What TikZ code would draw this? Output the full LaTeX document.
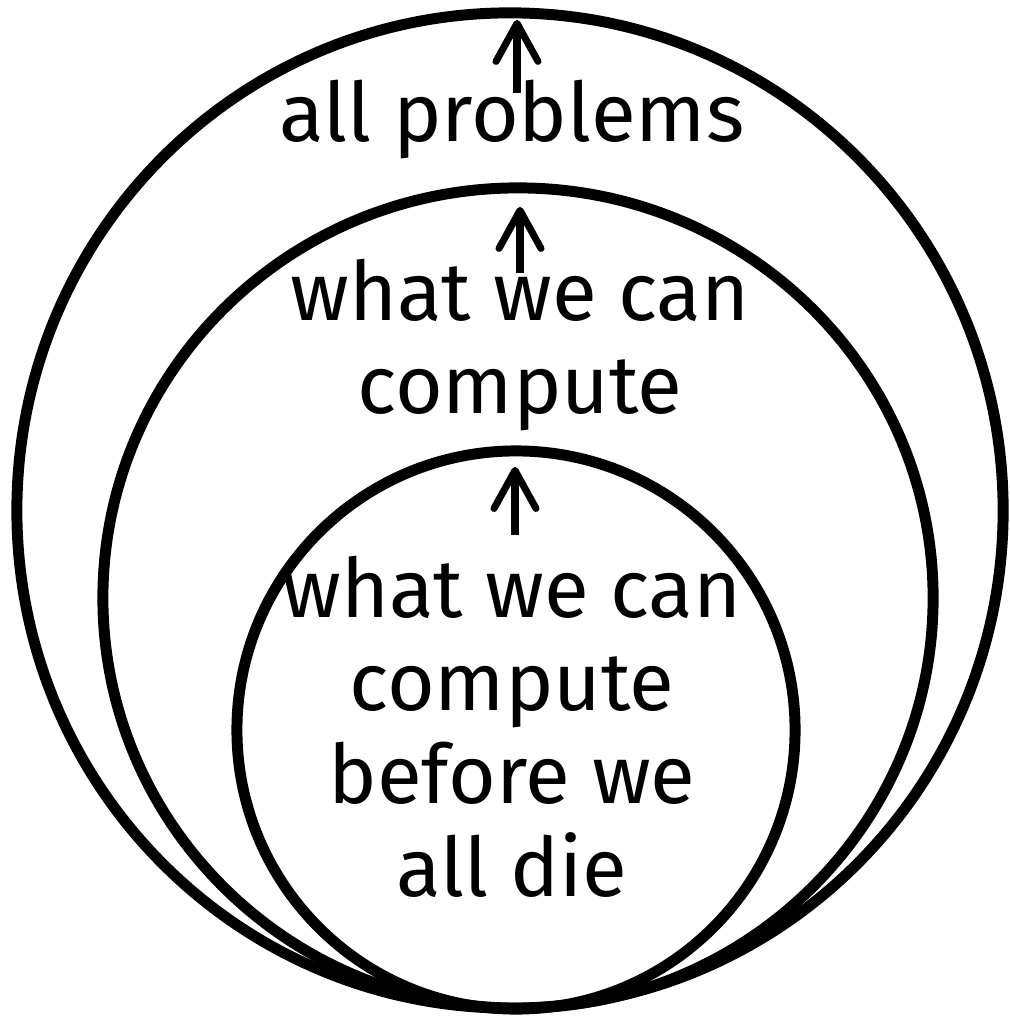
\documentclass[tikz,border=0pt]{standalone}
\usepackage{fontspec}
\setmainfont{Fira Sans}
\usepackage{tikz}
\usetikzlibrary{arrows.meta,shapes.geometric}

\begin{document}
\begin{tikzpicture}[x=0.025cm,y=-0.025cm,
  set/.style={draw,ellipse,line width=7.8pt,inner sep=0,outer sep=0},
  lbl/.style={align=center,anchor=base,inner sep=0,font=\fontsize{58.3pt}{66.1pt}\selectfont},
  up/.style={line width=5pt,-{Straight Barb[length=0.95cm,width=1.05cm,round]}}]
\useasboundingbox (0,0) rectangle (1009,1016);
% the three sets
\node[set,minimum width=24.65cm,minimum height=24.875cm](outer) at (510,510.5){};
\node[set,minimum width=20.75cm,minimum height=20.5cm](middle) at (518,598){};
\node[set,minimum width=13.95cm,minimum height=13.95cm](inner) at (516,730){};
% labels (base = last line)
\node[lbl](outerlbl) at (512,142){all problems};
\node[lbl](middlelbl) at (520,413){what we can\\compute};
\node[lbl](innerlbl) at (512,896){what we can\\compute\\before we\\all die};
% arrows up to the border
\coordinate (outertail) at (517,93);
\coordinate (middletail) at (520,273);
\coordinate (innertail) at (515,535);
\draw[up,shorten >=0.175cm](outertail)--(outertail|-outer.north);
\draw[up,shorten >=0.475cm](middletail)--(middletail|-middle.north);
\draw[up,shorten >=0.4cm](innertail)--(innertail|-inner.north);
\end{tikzpicture}
\end{document}
